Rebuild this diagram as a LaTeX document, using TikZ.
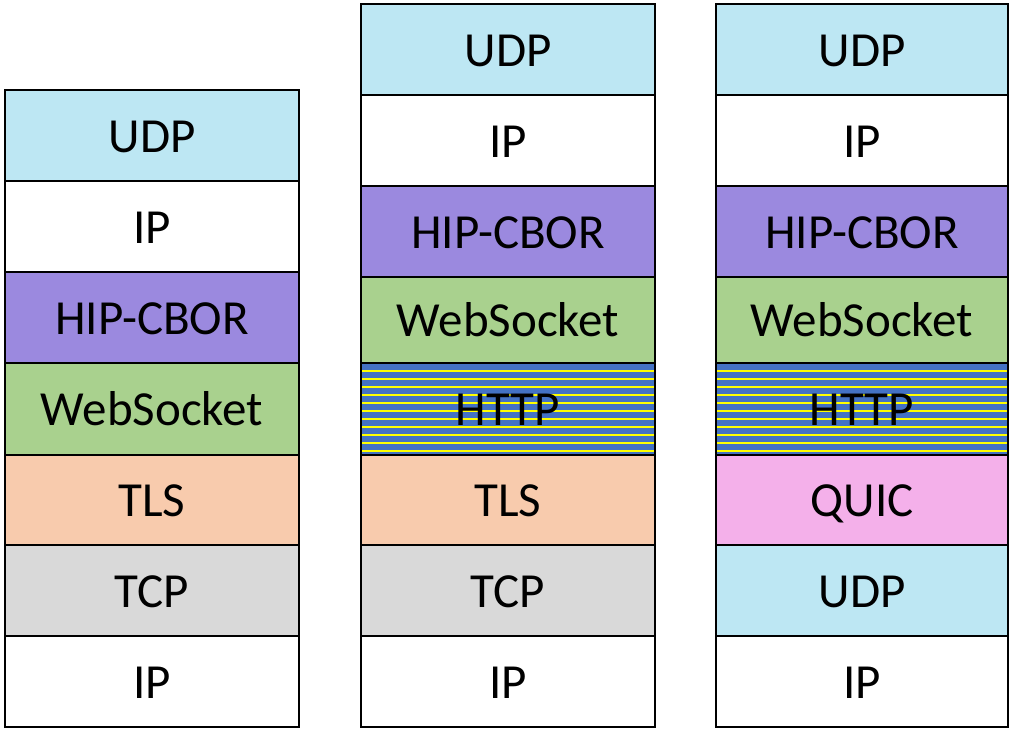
\documentclass[tikz,border=0pt]{standalone}
\usepackage{fontspec}
\setmainfont{Carlito}
\definecolor{cudp}{HTML}{BDE7F3}
\definecolor{chip}{HTML}{9B89DF}
\definecolor{cws}{HTML}{A9D18E}
\definecolor{ctls}{HTML}{F8CBAD}
\definecolor{ctcp}{HTML}{D9D9D9}
\definecolor{cquic}{HTML}{F4B0EA}
\definecolor{chttp}{HTML}{4472C4}
\definecolor{cyel}{HTML}{FFFF00}
\tikzset{
  layer/.style={draw=black, line width=2pt, inner sep=0pt, outer sep=0pt,
    font=\fontsize{49}{58}\selectfont, text=black, text height=33.6pt, text depth=0pt},
  udp/.style={layer, fill=cudp},
  ipl/.style={layer, fill=white},
  hip/.style={layer, fill=chip},
  ws/.style={layer, fill=cws},
  tls/.style={layer, fill=ctls},
  tcp/.style={layer, fill=ctcp},
  quic/.style={layer, fill=cquic},
  http/.style={layer, fill=chttp, path picture={
    \foreach \i in {0,...,10}
      \draw[cyel, line width=1.8pt]
        ([yshift=-(8pt+8pt*\i)]path picture bounding box.north west) -- ++(300pt,0);}},
}
\begin{document}
\begin{tikzpicture}[x=1pt,y=-1pt]
\useasboundingbox (0,0) rectangle (1010,729);
% left column
\begin{scope}[every node/.append style={minimum width=294pt}]
\node[udp, minimum height=91pt] (a1) at (152,135.5) {UDP};
\node[ipl, minimum height=91pt] (a2) at (152,226.5) {IP};
\node[hip, minimum height=91pt] (a3) at (152,317.5) {HIP-CBOR};
\node[ws,  minimum height=92pt] (a4) at (152,409) {WebSocket};
\node[tls, minimum height=90pt] (a5) at (152,500) {TLS};
\node[tcp, minimum height=91pt] (a6) at (152,590.5) {TCP};
\node[ipl, minimum height=91pt] (a7) at (152,681.5) {IP};
\end{scope}
% middle column
\begin{scope}[every node/.append style={minimum width=294pt}]
\node[udp, minimum height=91pt] (b1) at (508,49.5) {UDP};
\node[ipl, minimum height=91pt] (b2) at (508,140.5) {IP};
\node[hip, minimum height=91pt] (b3) at (508,231.5) {HIP-CBOR};
\node[ws,  minimum height=86pt] (b4) at (508,320) {WebSocket};
\node[http,minimum height=92pt] (b5) at (508,409) {HTTP};
\node[tls, minimum height=90pt] (b6) at (508,500) {TLS};
\node[tcp, minimum height=91pt] (b7) at (508,590.5) {TCP};
\node[ipl, minimum height=91pt] (b8) at (508,681.5) {IP};
\end{scope}
% right column
\begin{scope}[every node/.append style={minimum width=292pt}]
\node[udp, minimum height=91pt] (c1) at (862,49.5) {UDP};
\node[ipl, minimum height=91pt] (c2) at (862,140.5) {IP};
\node[hip, minimum height=91pt] (c3) at (862,231.5) {HIP-CBOR};
\node[ws,  minimum height=86pt] (c4) at (862,320) {WebSocket};
\node[http,minimum height=92pt] (c5) at (862,409) {HTTP};
\node[quic,minimum height=90pt] (c6) at (862,500) {QUIC};
\node[udp, minimum height=91pt] (c7) at (862,590.5) {UDP};
\node[ipl, minimum height=91pt] (c8) at (862,681.5) {IP};
\end{scope}
\end{tikzpicture}
\end{document}
